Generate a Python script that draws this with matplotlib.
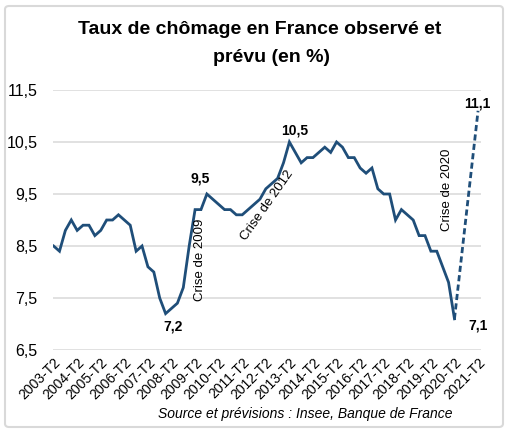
import matplotlib
matplotlib.use('Agg')
import matplotlib.pyplot as plt
from matplotlib.patches import FancyBboxPatch

plt.rcParams['font.family'] = ['Liberation Sans', 'DejaVu Sans']

# quarters 2003-T2 .. 2021-T2
quarters = [f'{y}-T{q}' for y in range(2003, 2022) for q in range(1, 5)]
quarters = quarters[1:quarters.index('2021-T2') + 1]

observed = [8.5, 8.4, 8.8,
            9.0, 8.8, 8.9, 8.9,
            8.7, 8.8, 9.0, 9.0,
            9.1, 9.0, 8.9, 8.4,
            8.5, 8.1, 8.0, 7.5,
            7.2, 7.3, 7.4, 7.7,
            8.5, 9.2, 9.2, 9.5,
            9.4, 9.3, 9.2, 9.2,
            9.1, 9.1, 9.2, 9.3,
            9.4, 9.6, 9.7, 9.8,
            10.1, 10.5, 10.3, 10.1,
            10.2, 10.2, 10.3, 10.4,
            10.3, 10.5, 10.4, 10.2,
            10.2, 10.0, 9.9, 10.0,
            9.6, 9.5, 9.5, 9.0,
            9.2, 9.1, 9.0, 8.7,
            8.7, 8.4, 8.4, 8.1,
            7.8, 7.1]
forecast_q = ['2020-T2', '2021-T2']
forecast = [7.1, 11.1]

tick_labels = [q for q in quarters if q.endswith('-T2')]
yticks = [6.5, 7.5, 8.5, 9.5, 10.5, 11.5]

# (quarter, value, text, offset in points)
labels = [('2009-T4', 9.5, '9,5', (-5, 11.5)),
          ('2008-T1', 7.2, '7,2', (5, -9.5)),
          ('2013-T2', 10.5, '10,5', (4, 8)),
          ('2021-T2', 11.1, '11,1', (-0.7, 5)),
          ('2020-T2', 7.1, '7,1', (17, -4.5))]

blue = '#1f4e79'

fig = plt.figure(figsize=(5.10, 4.33), dpi=100)
ax = fig.add_axes([53/510, 1 - 350/433, 428/510, 260/433])

x_obs = list(range(len(observed)))
ax.plot(x_obs, observed, color=blue, lw=2.0, solid_joinstyle='miter')
x_fc = [quarters.index(q) for q in forecast_q]
ax.plot(x_fc, forecast, color=blue, lw=2.0, ls=(0, (2.2, 1.2)))

ax.set_ylim(6.5, 11.5)
ax.set_xlim(-0.1, 72.5)
ax.set_yticks(yticks)
ax.set_yticklabels([f'{v:.1f}'.replace('.', ',') for v in yticks], fontsize=11.5)
ax.set_xticks([quarters.index(q) for q in tick_labels])
ax.set_xticklabels(tick_labels, rotation=45, ha='right', va='top',
                   rotation_mode='anchor', fontsize=10)
ax.tick_params(length=0)
ax.tick_params(axis='y', pad=11)
ax.tick_params(axis='x', pad=4)
ax.grid(axis='y', color='#d9d9d9', lw=1.1)
ax.set_axisbelow(True)
for s in ax.spines.values():
    s.set_visible(False)

for q, v, t, off in labels:
    ax.annotate(t, (quarters.index(q), v), xytext=off, textcoords='offset points',
                ha='center', va='center', fontsize=10, fontweight='bold')

ax.text(24.9, 8.23, 'Crise de 2009', rotation=90, ha='center', va='center', fontsize=9.5)
ax.text(36.3, 9.27, 'Crise de 2012', rotation=55, ha='center', va='center', fontsize=9.5)
ax.text(66.7, 9.58, 'Crise de 2020', rotation=90, ha='center', va='center', fontsize=9.5)

fig.text(260/510, 1 - 30/433, 'Taux de chômage en France observé et',
         ha='center', va='center', fontsize=14, fontweight='bold')
fig.text(272/510, 1 - 57/433, 'prévu (en %)',
         ha='center', va='center', fontsize=14, fontweight='bold')
fig.text(305/510, 1 - 414/433, 'Source et prévisions : Insee, Banque de France',
         ha='center', va='center', fontsize=10, style='italic')

fig.patches.append(FancyBboxPatch((5/510, 6/433), 498/510, 421/433,
                                  boxstyle='round,pad=0,rounding_size=0.008',
                                  transform=fig.transFigure, fill=False,
                                  edgecolor='#d9d9d9', lw=1.5))

fig.savefig('out.png', dpi=100)
